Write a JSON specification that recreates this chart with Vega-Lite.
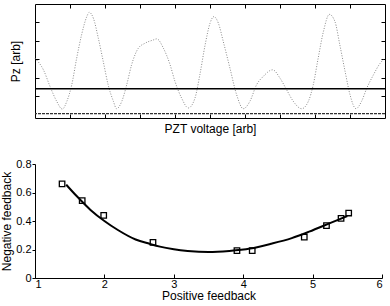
{
  "$schema": "https://vega.github.io/schema/vega-lite/v6.json",
  "background": "white",
  "padding": {"left": 0, "top": 3, "right": 5, "bottom": 0},
  "bounds": "flush",
  "spacing": 46,
  "config": {
    "font": "Liberation Sans",
    "view": {"stroke": null},
    "axis": {
      "labelFont": "Liberation Sans",
      "titleFont": "Liberation Sans",
      "labelFontSize": 11,
      "titleFontSize": 12,
      "titleFontWeight": "normal",
      "labelColor": "#000",
      "titleColor": "#000",
      "domainColor": "#000",
      "tickColor": "#000",
      "labelOverlap": false,
      "grid": false
    },
    "axisY": {"labelOverlap": false}
  },
  "vconcat": [
    {
      "width": 350,
      "height": 114,
      "layer": [
        {
          "data": {"values": [
            {"v": 0, "p": 3.05}, {"v": 0.24, "p": 2.43}, {"v": 0.43, "p": 1.53}, {"v": 0.62, "p": 0.73},
            {"v": 0.78, "p": 0.31}, {"v": 0.91, "p": 0.73}, {"v": 1.05, "p": 1.62}, {"v": 1.19, "p": 3.05},
            {"v": 1.33, "p": 4.31}, {"v": 1.48, "p": 5.3}, {"v": 1.55, "p": 5.53}, {"v": 1.67, "p": 5.2},
            {"v": 1.81, "p": 4.13}, {"v": 1.95, "p": 2.88}, {"v": 2.09, "p": 1.62}, {"v": 2.24, "p": 0.73},
            {"v": 2.33, "p": 0.33}, {"v": 2.48, "p": 0.73}, {"v": 2.62, "p": 1.62}, {"v": 2.76, "p": 2.7},
            {"v": 2.95, "p": 3.59}, {"v": 3.14, "p": 3.86}, {"v": 3.38, "p": 4.04}, {"v": 3.48, "p": 4.1},
            {"v": 3.67, "p": 3.59}, {"v": 3.86, "p": 2.7}, {"v": 4.0, "p": 1.8}, {"v": 4.19, "p": 0.9},
            {"v": 4.38, "p": 0.37}, {"v": 4.57, "p": 0.9}, {"v": 4.71, "p": 2.16}, {"v": 4.86, "p": 3.77},
            {"v": 5.0, "p": 4.94}, {"v": 5.11, "p": 5.3}, {"v": 5.24, "p": 4.94}, {"v": 5.38, "p": 3.95},
            {"v": 5.57, "p": 2.52}, {"v": 5.76, "p": 1.09}, {"v": 5.95, "p": 0.33}, {"v": 6.14, "p": 0.73},
            {"v": 6.33, "p": 1.62}, {"v": 6.52, "p": 2.07}, {"v": 6.79, "p": 2.43}, {"v": 7.0, "p": 1.98},
            {"v": 7.19, "p": 1.35}, {"v": 7.38, "p": 0.73}, {"v": 7.62, "p": 0.33}, {"v": 7.81, "p": 0.73},
            {"v": 7.95, "p": 1.62}, {"v": 8.09, "p": 3.05}, {"v": 8.24, "p": 4.49}, {"v": 8.41, "p": 5.42},
            {"v": 8.57, "p": 5.03}, {"v": 8.71, "p": 3.77}, {"v": 8.86, "p": 2.34}, {"v": 9.0, "p": 1.09},
            {"v": 9.17, "p": 0.33}, {"v": 9.33, "p": 0.73}, {"v": 9.48, "p": 1.44}, {"v": 9.67, "p": 2.16},
            {"v": 9.86, "p": 2.78}, {"v": 9.95, "p": 2.97}
          ]},
          "layer": [
            {
              "mark": {"type": "line", "interpolate": "monotone", "color": "#8a8a8a", "strokeWidth": 1, "strokeDash": [1, 1.6]},
              "encoding": {
                "x": {"field": "v", "type": "quantitative", "scale": {"domain": [0, 10], "nice": false},
                  "axis": {"title": "PZT voltage [arb]", "labels": false, "values": [1, 2, 3, 4, 5, 6, 7, 8, 9], "tickSize": -4, "titlePadding": 5}},
                "y": {"field": "p", "type": "quantitative", "scale": {"domain": [-0.17, 5.98], "nice": false, "zero": false},
                  "axis": {"title": "Pz [arb]", "labels": false, "values": [1, 2, 3, 4, 5], "tickSize": -4, "titlePadding": 12}}
              }
            },
            {
              "mark": {"type": "line", "opacity": 0},
              "encoding": {
                "x": {"field": "v", "type": "quantitative",
                  "axis": {"orient": "top", "title": null, "labels": false, "values": [1, 2, 3, 4, 5, 6, 7, 8, 9], "tickSize": -4}},
                "y": {"field": "p", "type": "quantitative",
                  "axis": {"orient": "right", "title": null, "labels": false, "values": [1, 2, 3, 4, 5], "tickSize": -4}}
              }
            }
          ],
          "resolve": {"axis": {"x": "independent", "y": "independent"}}
        },
        {
          "data": {"values": [{"trace": "upper", "level": 1.41}]},
          "mark": {"type": "rule", "color": "#000", "strokeWidth": 1.6},
          "encoding": {"y": {"field": "level", "type": "quantitative", "axis": null}}
        },
        {
          "data": {"values": [{"trace": "lower", "level": 0.065}]},
          "mark": {"type": "rule", "color": "#333", "strokeWidth": 1.2, "strokeDash": [3, 1]},
          "encoding": {"y": {"field": "level", "type": "quantitative", "axis": null}}
        }
      ]
    },
    {
      "width": 347,
      "height": 114,
      "encoding": {
        "x": {"field": "pos", "type": "quantitative", "scale": {"domain": [1, 6], "nice": false},
          "axis": {"title": "Positive feedback", "values": [1, 2, 3, 4, 5, 6], "format": "d", "tickSize": -4, "labelPadding": 4, "titlePadding": 1, "labelOverlap": false}},
        "y": {"field": "neg", "type": "quantitative", "scale": {"domain": [0, 0.8], "nice": false},
          "axis": {"title": "Negative feedback", "values": [0, 0.2, 0.4, 0.6, 0.8], "labelExpr": "datum.value == 0 ? '0' : format(datum.value, '.1f')", "tickSize": 3, "labelPadding": 1, "titlePadding": 2, "labelOverlap": false}}
      },
      "layer": [
        {
          "data": {"values": [
            {"pos": 1.45, "neg": 0.655}, {"pos": 1.6, "neg": 0.575}, {"pos": 1.8, "neg": 0.478},
            {"pos": 2.0, "neg": 0.4}, {"pos": 2.2, "neg": 0.335}, {"pos": 2.45, "neg": 0.27},
            {"pos": 2.65, "neg": 0.24}, {"pos": 2.8, "neg": 0.22}, {"pos": 3.0, "neg": 0.202},
            {"pos": 3.2, "neg": 0.19}, {"pos": 3.5, "neg": 0.182}, {"pos": 3.8, "neg": 0.19},
            {"pos": 4.1, "neg": 0.207}, {"pos": 4.4, "neg": 0.24}, {"pos": 4.7, "neg": 0.28},
            {"pos": 4.95, "neg": 0.325}, {"pos": 5.25, "neg": 0.385}, {"pos": 5.5, "neg": 0.435}
          ]},
          "mark": {"type": "line", "interpolate": "monotone", "color": "#000", "strokeWidth": 2}
        },
        {
          "data": {"values": [
            {"pos": 1.39, "neg": 0.66}, {"pos": 1.68, "neg": 0.543}, {"pos": 1.99, "neg": 0.44},
            {"pos": 2.7, "neg": 0.25}, {"pos": 3.91, "neg": 0.192}, {"pos": 4.13, "neg": 0.192},
            {"pos": 4.88, "neg": 0.287}, {"pos": 5.2, "neg": 0.368}, {"pos": 5.41, "neg": 0.419},
            {"pos": 5.52, "neg": 0.456}
          ]},
          "mark": {"type": "point", "shape": "square", "filled": false, "color": "#000", "size": 30, "strokeWidth": 1.3, "opacity": 1}
        }
      ]
    }
  ]
}
